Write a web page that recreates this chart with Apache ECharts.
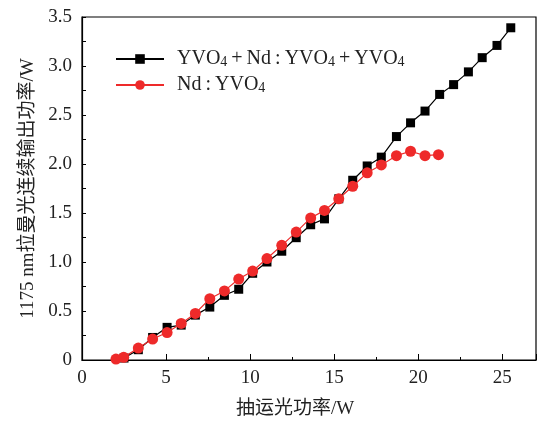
<!DOCTYPE html>
<html>
<head>
<meta charset="utf-8">
<script src="https://cdn.jsdelivr.net/npm/echarts@6/dist/echarts.min.js"></script>
<style>
  html, body { margin: 0; padding: 0; background: #fff; }
  #main { width: 544px; height: 424px; }
</style>
</head>
<body>
<div id="main"></div>
<script>
// 抽运光功率 (W)
var pumpBlack = [2.5, 3.35, 4.2, 5.06, 5.9, 6.74, 7.6, 8.47, 9.32, 10.15, 11.0, 11.88, 12.74, 13.6,
  14.42, 15.27, 16.1, 16.96, 17.8, 18.7, 19.54, 20.4, 21.27, 22.1, 22.98, 23.8, 24.68, 25.5];
var outBlack = [0.02, 0.105, 0.23, 0.333, 0.356, 0.458, 0.54, 0.66, 0.722, 0.885, 1.0, 1.11, 1.248, 1.38,
  1.44, 1.645, 1.834, 1.98, 2.07, 2.28, 2.42, 2.54, 2.71, 2.81, 2.94, 3.085, 3.21, 3.39];

var pumpRed = [2.02, 2.48, 3.35, 4.2, 5.06, 5.9, 6.74, 7.6, 8.47, 9.32, 10.15, 11.0, 11.88, 12.74,
  13.6, 14.42, 15.27, 16.1, 16.96, 17.8, 18.7, 19.54, 20.4, 21.2];
var outRed = [0.01, 0.027, 0.122, 0.214, 0.28, 0.373, 0.475, 0.625, 0.705, 0.826, 0.908, 1.035, 1.17, 1.305,
  1.45, 1.526, 1.645, 1.773, 1.91, 1.99, 2.085, 2.13, 2.085, 2.095];

var seriesNames = ['YVO4+Nd:YVO4+YVO4', 'Nd:YVO4'];

function pairs(xs, ys) {
  return xs.map(function (x, i) { return [x, ys[i]]; });
}

var serif = '"Liberation Serif", "DejaVu Serif", serif';
var cjk = '"Liberation Serif", "Noto Sans CJK SC", serif';

var chart = echarts.init(document.getElementById('main'), null, { renderer: 'canvas' });

chart.setOption({
  backgroundColor: '#fff',
  animation: false,
  grid: {
    left: 82, right: 8, top: 17, bottom: 63,
    show: true, borderColor: '#000', borderWidth: 1.2
  },
  legend: {
    orient: 'vertical',
    left: 110, top: 42,
    itemWidth: 48, itemHeight: 12,
    itemGap: 4,
    data: seriesNames,
    formatter: function (name) {
      if (name === seriesNames[0]) {
        return '{a|YVO}{s|4}{a|\u2009+\u2009Nd\u2009:\u2009YVO}{s|4}{a|\u2009+\u2009YVO}{s|4}';
      }
      return '{a|Nd\u2009:\u2009YVO}{s|4}';
    },
    textStyle: {
      padding: [0, 0, 0, 8],
      rich: {
        a: { fontFamily: serif, fontSize: 20, color: '#222', lineHeight: 20 },
        s: { fontFamily: serif, fontSize: 14, color: '#222', verticalAlign: 'bottom', lineHeight: 14, padding: [8, 0, 0, 0] }
      }
    }
  },
  xAxis: {
    type: 'value',
    min: 0, max: 27, interval: 5,
    name: '抽运光功率/W',
    nameLocation: 'middle',
    nameGap: 40,
    nameTextStyle: { fontFamily: cjk, fontSize: 19, color: '#222', padding: [0, 28, 0, 0] },
    axisLine: { show: true, onZero: false, lineStyle: { color: '#000', width: 1.2 } },
    axisTick: { show: true, inside: true, length: 6, lineStyle: { color: '#000' } },
    minorTick: { show: true, splitNumber: 2, length: 3, lineStyle: { color: '#000' } },
    axisLabel: { fontFamily: serif, fontSize: 19, color: '#222', margin: 9, showMaxLabel: false },
    splitLine: { show: false }
  },
  yAxis: {
    type: 'value',
    min: 0, max: 3.5, interval: 0.5,
    name: '1175 nm拉曼光连续输出功率/W',
    nameLocation: 'middle',
    nameGap: 42,
    nameTextStyle: { fontFamily: cjk, fontSize: 19, color: '#222', padding: [0, 0, 0, 0] },
    axisLine: { show: true, lineStyle: { color: '#000', width: 1.2 } },
    axisTick: { show: true, inside: true, length: 4, lineStyle: { color: '#000' } },
    minorTick: { show: true, splitNumber: 2, length: 4, lineStyle: { color: '#000' } },
    axisLabel: {
      fontFamily: serif, fontSize: 19, color: '#222', margin: 10,
      formatter: function (v) { return v === 0 ? '0' : v.toFixed(1); }
    },
    splitLine: { show: false }
  },
  series: [
    {
      name: seriesNames[0],
      type: 'line',
      data: pairs(pumpBlack, outBlack),
      symbol: 'rect',
      symbolSize: 9,
      lineStyle: { color: '#000', width: 1.2 },
      itemStyle: { color: '#000' },
      z: 2
    },
    {
      name: seriesNames[1],
      type: 'line',
      data: pairs(pumpRed, outRed),
      symbol: 'circle',
      symbolSize: 11,
      lineStyle: { color: '#ee2a2a', width: 1.2 },
      itemStyle: { color: '#ee2a2a' },
      z: 3
    }
  ]
});
</script>
</body>
</html>
